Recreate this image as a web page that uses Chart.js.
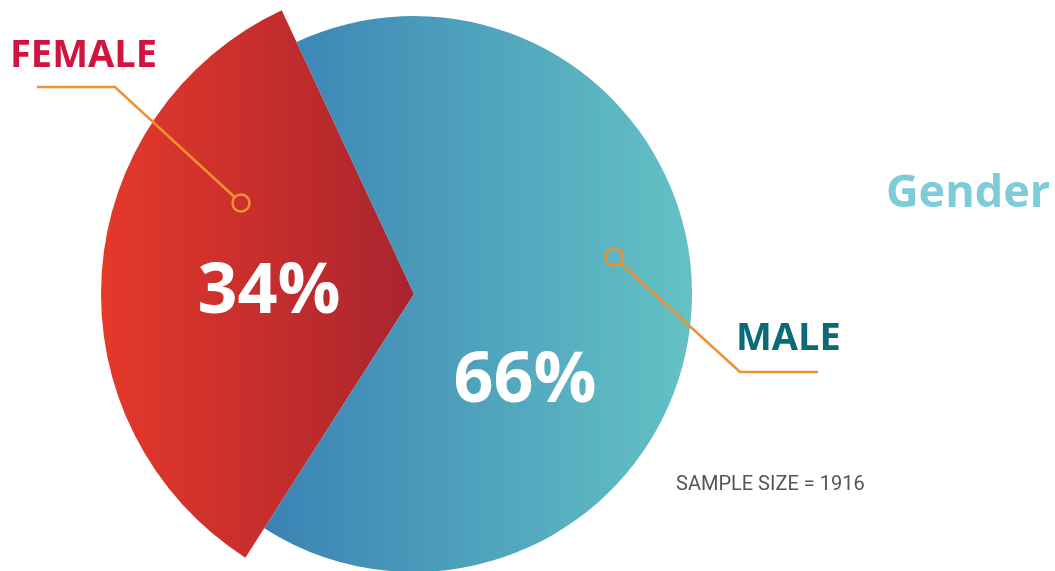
<!DOCTYPE html>
<html>
<head>
<meta charset="utf-8">
<script src="https://cdn.jsdelivr.net/npm/chart.js@4.4.1/dist/chart.umd.min.js"></script>
<style>
  html, body { margin: 0; padding: 0; background: #ffffff; }
  #wrap { position: relative; width: 1055px; height: 571px; }
</style>
</head>
<body>
<div id="wrap"><canvas id="c" width="1055" height="571"></canvas></div>
<script>
// ---- data ----
const categories = ['FEMALE', 'MALE'];
const shares = [34, 66];
const valueLabels = ['34%', '66%'];
const chartTitle = 'Gender';
const footNote = 'SAMPLE SIZE = 1916';

// ---- style ----
const MALE_RADIUS = 278;
const FEMALE_RADIUS = 313;
const ORANGE = '#f0902f';

function sliceGradient(ctx) {
  const c = ctx.chart.ctx;
  if (ctx.dataIndex === 0) {
    const g = c.createLinearGradient(100, 0, 414, 0);
    g.addColorStop(0, '#e5392a');
    g.addColorStop(1, '#a9242f');
    return g;
  }
  const g = c.createLinearGradient(262, 0, 692, 0);
  g.addColorStop(0, '#3a82b4');
  g.addColorStop(1, '#64c2c5');
  return g;
}

const enlargeFemale = {
  id: 'enlargeFemale',
  afterDatasetsUpdate(chart) {
    const meta = chart.getDatasetMeta(0);
    if (meta.data[0]) meta.data[0].outerRadius = FEMALE_RADIUS;
  }
};

const annotations = {
  id: 'annotations',
  afterDraw(chart) {
    const ctx = chart.ctx;
    ctx.save();
    ctx.strokeStyle = ORANGE;
    ctx.lineWidth = 2.5;
    function leader(pts, dot) {
      ctx.beginPath();
      ctx.moveTo(pts[0][0], pts[0][1]);
      for (let i = 1; i < pts.length; i++) ctx.lineTo(pts[i][0], pts[i][1]);
      ctx.stroke();
      ctx.beginPath();
      ctx.arc(dot[0], dot[1], 8.5, 0, Math.PI * 2);
      ctx.stroke();
    }
    const fd = [241, 203];
    const fa = [115, 87];
    const fl = Math.hypot(fd[0] - fa[0], fd[1] - fa[1]);
    leader([[37, 87], fa, [fd[0] - (fd[0] - fa[0]) / fl * 8.5, fd[1] - (fd[1] - fa[1]) / fl * 8.5]], fd);
    const md = [614, 257];
    const ma = [740, 372];
    const ml = Math.hypot(ma[0] - md[0], ma[1] - md[1]);
    leader([[md[0] + (ma[0] - md[0]) / ml * 8.5, md[1] + (ma[1] - md[1]) / ml * 8.5], ma, [818, 372]], md);

    ctx.textBaseline = 'alphabetic';
    ctx.textAlign = 'left';
    ctx.fillStyle = '#d0143f';
    ctx.font = 'bold 38px "Open Sans"';
    ctx.fillText(categories[0], 10, 67);
    ctx.fillStyle = '#0b6a75';
    ctx.fillText(categories[1], 736, 350);

    ctx.fillStyle = '#7dccd7';
    ctx.font = 'bold 45px "Open Sans"';
    ctx.fillText(chartTitle, 886, 207);

    ctx.fillStyle = '#ffffff';
    ctx.font = 'bold 70px "Open Sans"';
    ctx.textAlign = 'center';
    ctx.fillText(valueLabels[0], 269, 313);
    ctx.fillText(valueLabels[1], 525, 402);

    ctx.fillStyle = '#555555';
    ctx.font = '20px Roboto';
    ctx.textAlign = 'left';
    ctx.fillText(footNote, 676, 490);
    ctx.restore();
  }
};

new Chart(document.getElementById('c'), {
  type: 'pie',
  data: {
    labels: categories,
    datasets: [{
      data: shares,
      backgroundColor: sliceGradient,
      borderWidth: 0,
      hoverOffset: 0
    }]
  },
  options: {
    responsive: false,
    animation: false,
    rotation: 212.6,
    radius: MALE_RADIUS,
    layout: { padding: { left: 0, right: 227, top: 17, bottom: 0 } },
    plugins: {
      legend: { display: false },
      tooltip: { enabled: false }
    },
    events: []
  },
  plugins: [enlargeFemale, annotations]
});
</script>
</body>
</html>
